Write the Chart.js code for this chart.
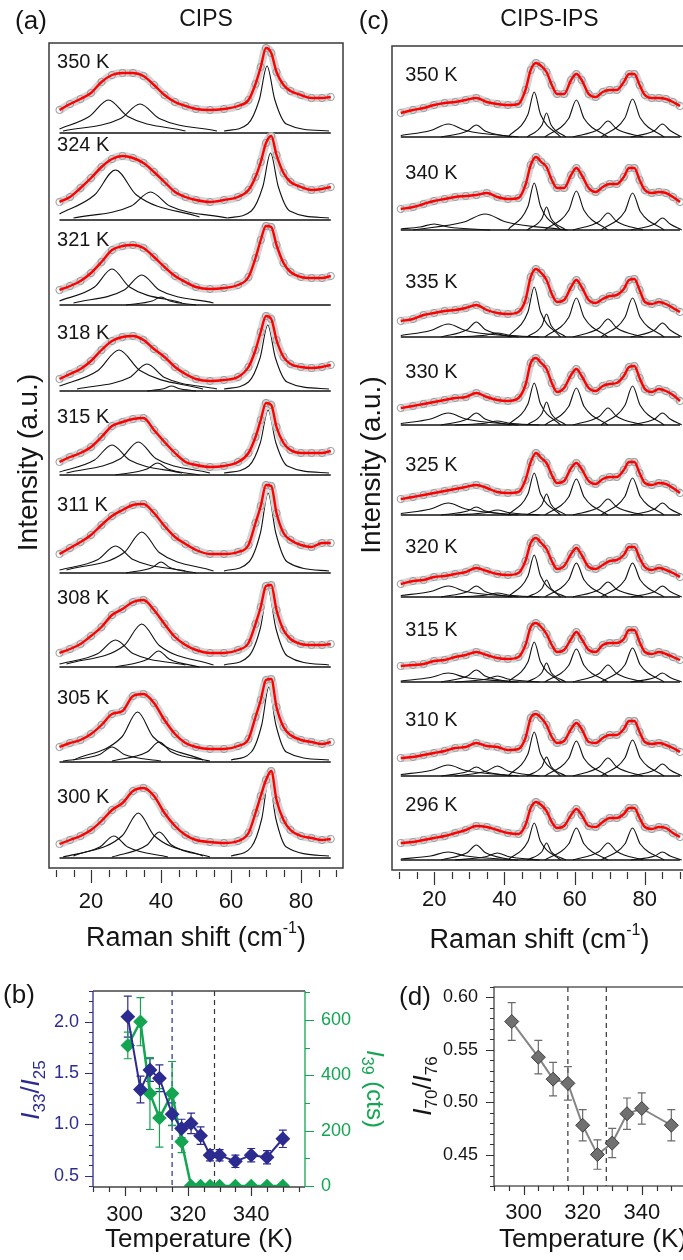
<!DOCTYPE html>
<html lang="en">
<head>
  <meta charset="UTF-8">
  <title>CIPS / CIPS-IPS Raman spectra</title>
  <script src="https://cdn.jsdelivr.net/npm/chart.js"></script>
  <style>
    body { margin: 0; width: 683px; height: 1260px; overflow: hidden; background: #fff; position: relative; }
    canvas { position: absolute; }
    #ca { left: 0; top: 0; }
    #cc { left: 345px; top: 0; }
    #cb { left: 0; top: 960px; }
    #cd { left: 360px; top: 960px; }
  </style>
</head>
<body>
  <canvas id="ca" width="360" height="960"></canvas>
  <canvas id="cc" width="355" height="960"></canvas>
  <canvas id="cb" width="400" height="300"></canvas>
  <canvas id="cd" width="340" height="300"></canvas>
<script>
// ---------- panel (a): CIPS spectra ----------
const shiftA = [11,14,17,20,23,26,29,32,35,38,41,44,47,50,54,58,62,65,67,68.5,70,71.5,73,75,77,80,83,86,88.5];
const tempsA = ['350 K','324 K','321 K','318 K','315 K','311 K','308 K','305 K','300 K'];
const baseA = [735, 648, 563, 477, 393, 295, 201, 106, 10];   // stacking offset of each trace
const lblHA = [71, 75, 65, 58, 58, 68, 69, 64, 61];
const lblXA = 10.3;

const specA350 = [23,29,34,40,51,58,60,60,57,48,38,31,27,24,23,24,27,33,49,66,85,80,61,48,42,38,35,35,36];
const specA324 = [18,23,32,42,53,61,64,62,57,48,38,28,23,20,18,20,23,30,43,58,77,84,65,47,38,33,30,31,33];
const specA321 = [15,19,24,32,43,55,59,60,57,48,38,29,23,18,16,17,20,28,47,65,79,78,60,42,33,28,27,27,29];
const specA318 = [12,17,22,30,41,50,54,55,51,42,34,24,17,12,10,11,14,24,41,59,75,72,51,34,27,24,23,24,26];
const specA315 = [13,18,22,28,38,49,53,56,57,45,33,22,13,10,8,9,13,22,38,55,72,70,48,32,25,22,22,22,24];
const specA311 = [19,25,31,38,48,57,63,68,69,60,47,36,29,23,19,19,21,28,50,67,88,87,60,40,33,28,26,30,30];
const specA308 = [14,18,23,31,40,52,58,65,67,57,43,30,22,17,14,14,17,24,43,60,81,82,57,37,28,23,22,22,23];
const specA305 = [15,19,22,28,37,48,51,66,68,59,42,28,19,15,13,13,16,23,45,62,82,83,55,35,27,22,20,18,20];
const specA300 = [14,18,22,28,37,48,55,67,70,62,45,32,23,18,16,15,17,25,45,62,78,87,58,38,28,22,20,18,19];

// fitted components, read as [shift, height] points
const compA350 = [
  [[11,4],[19.5,16.5],[25,33],[30.5,16.5],[47,2]],
  [[12,2],[28.5,14.5],[34,29],[39.5,14.5],[56,2]],
  [[58,2],[64.8,9],[68.1,33.5],[70.3,67],[72.5,33.5],[75.8,9],[88,2]]];
const compA324 = [
  [[11,6],[21,25],[27,50],[33,25],[51,3]],
  [[15,2],[31.5,14],[37,28],[42.5,14],[59,2]],
  [[59,2],[65.8,9],[69.1,33.5],[71.3,67],[73.5,33.5],[76.8,9],[88,2]]];
const compA321 = [
  [[11,4],[21,18],[26,36],[31,18],[46,2]],
  [[15,2],[29.5,15],[34.5,30],[39.5,15],[55,2]],
  [[30,0],[37.5,4],[40,8],[42.5,4],[50,0]]];
const compA318 = [
  [[11,5],[22,20.5],[28,41],[34,20.5],[52,2]],
  [[16,2],[31,13.5],[36,27],[41,13.5],[56,2]],
  [[36,0],[41,2.5],[43,5],[45,2.5],[50,0]],
  [[58,2],[65,9],[68.3,33],[70.5,66],[72.7,33],[76,9],[88,2]]];
const compA315 = [
  [[11,3],[21,15],[26,30],[31,15],[46,2]],
  [[13,2],[28.5,16.5],[33.5,33],[38.5,16.5],[54,2]],
  [[27,0],[36,6],[39,12],[42,6],[51,0]],
  [[58,2],[65.1,9],[68.4,32.5],[70.6,65],[72.8,32.5],[76.1,9],[88,2]]];
const compA311 = [
  [[11,3],[22,13.5],[27,27],[32,13.5],[47,2]],
  [[13,3],[29.5,20.5],[34.5,41],[39.5,20.5],[55,2]],
  [[30,0],[37.5,5.5],[40,11],[42.5,5.5],[50,0]],
  [[58,2],[65.1,11],[68.4,40],[70.6,80],[72.8,40],[76.1,11],[88,2]]];
const compA308 = [
  [[11,3],[22,13.5],[27,27],[32,13.5],[47,2]],
  [[13,3],[29.5,21.5],[34.5,43],[39.5,21.5],[55,2]],
  [[27,0],[36.3,8],[39.3,16],[42.3,8],[51,0]],
  [[58,2],[65.1,11],[68.4,39],[70.6,78],[72.8,39],[76.1,11],[88,2]]];
const compA305 = [
  [[12,1],[22.5,7.5],[26,15],[29.5,7.5],[40,1]],
  [[15,2],[28.8,25],[33.3,50],[37.8,25],[52,2]],
  [[26,1],[36,10],[39.5,20],[43,10],[54,1]],
  [[60,2],[65.8,10],[68.8,37.5],[70.8,75],[72.8,37.5],[75.8,10],[88,2]]];
const compA300 = [
  [[12,1],[22.5,11],[26.5,22],[30.5,11],[42,1]],
  [[15,2],[29,22.5],[33.5,45],[38,22.5],[52,2]],
  [[26,1],[36,13],[39.5,26],[43,13],[54,1]],
  [[60,2],[65.8,11],[68.8,39.5],[70.8,79],[72.8,39.5],[75.8,11],[88,2]]];

// ---------- panel (c): CIPS-IPS spectra ----------
const shiftC = [10.5,14,17,20,23,26,29,32,35,38,41,44,46,47.5,49,50.5,52,53.5,55,57,59,60.5,62,64,66,68,70,72,74,75.5,77,78.5,80,82,84,86,88,90];
const tempsC = ['350 K','340 K','335 K','330 K','325 K','320 K','315 K','310 K','296 K'];
const baseC = [733, 640, 533, 445, 355, 273, 188, 94, 10];
const lblHC = [62, 57, 55, 53, 50, 50, 52, 56, 55];
const lblXC = 11.8;

const specC350 = [24,27,29,32,34,35,37,39,35,33,32,33,47,67,74,71,65,52,43,43,57,63,57,43,40,45,47,47,55,63,63,52,42,39,39,38,35,31];
const specC340 = [21,23,26,29,31,33,34,35,37,33,31,32,45,65,73,68,63,50,42,42,55,62,55,42,38,43,46,46,53,62,62,50,40,37,38,37,33,28];
const specC335 = [16,18,22,24,26,27,29,32,27,24,23,25,37,60,68,64,57,43,35,37,50,57,50,37,34,38,41,42,48,57,58,47,35,33,35,33,29,25];
const specC330 = [17,19,21,23,25,27,28,32,28,25,24,27,40,62,67,62,56,42,33,37,50,56,49,37,34,39,41,42,49,58,59,47,36,33,36,34,30,24];
const specC325 = [16,18,20,22,24,26,28,30,27,23,22,23,35,53,62,57,52,40,32,34,47,52,46,34,31,36,38,38,45,53,53,42,32,30,32,31,27,22];
const specC320 = [13,16,17,20,21,23,25,29,26,23,22,24,36,54,59,54,48,36,28,31,43,49,42,30,28,32,36,37,42,50,50,39,30,27,29,27,24,20];
const specC315 = [16,17,18,21,22,25,27,30,27,24,23,25,37,55,59,55,48,37,30,32,43,50,43,32,30,37,39,39,43,52,52,40,30,28,30,28,25,22];
const specC310 = [18,19,21,23,25,28,29,33,30,29,26,27,38,58,62,58,51,39,33,35,47,53,47,34,33,38,41,41,47,55,55,44,34,32,33,31,28,24];
const specC296 = [17,18,20,22,24,27,30,34,33,30,27,26,35,52,58,55,49,38,32,34,45,51,45,34,33,38,42,42,46,52,52,42,33,31,33,32,27,23];

// component peaks of (c): shift positions of each curve, heights per temperature
const pkX20 = [10.5,16,20,24,36];
const pkX24 = [10.5,19,24,29,44];
const pkX32 = [22,29.5,32,34.5,42];
const pkX34 = [14,28.5,34.5,40.5,58];
const pkX38 = [26,35,38,41,50];
const pkX48 = [41,46.7,48.5,50.3,56];
const pkX52 = [46.5,50.7,52,53.3,57.5];
const pkX60 = [51.5,58.3,60.5,62.7,69.5];
const pkX69 = [59.5,67,69.5,72,79.5];
const pkX76 = [67.5,74.3,76.5,78.7,85.5];
const pkX85 = [76,82.8,85,87.2,90.5];

const compC350 = [[pkX24,[1.5,6.5,13,6.5,0]],[pkX32,[0,6,12,6,0]],[pkX48,[0,22.5,45,22.5,0]],[pkX52,[0,12,24,12,0]],
  [pkX60,[0,18.5,37,18.5,0]],[pkX69,[0,8,16,8,0]],[pkX76,[0,19,38,19,0]],[pkX85,[0,6.5,13,6.5,0]]];
const compC340 = [[pkX20,[1,3,6,3,0]],[pkX34,[0,8,16,8,0]],[pkX48,[0,23.5,47,23.5,0]],[pkX52,[0,11.5,23,11.5,0]],
  [pkX60,[0,19.5,39,19.5,0]],[pkX69,[0,8.5,17,8.5,0]],[pkX76,[0,18.5,37,18.5,0]],[pkX85,[0,6,12,6,0]]];
const compC335 = [[pkX24,[1.5,6.5,13,6.5,0]],[pkX32,[0,7.5,15,7.5,0]],[pkX38,[0,2,4,2,0]],[pkX48,[0,25,50,25,0]],[pkX52,[0,11.5,23,11.5,0]],
  [pkX60,[0,19.5,39,19.5,0]],[pkX69,[0,9,18,9,0]],[pkX76,[0,19.5,39,19.5,0]],[pkX85,[0,7,14,7,0]]];
const compC330 = [[pkX24,[1.5,6,12,6,0]],[pkX32,[0,6,12,6,0]],[pkX38,[0,2,4,2,0]],[pkX48,[0,21,42,21,0]],[pkX52,[0,11.5,23,11.5,0]],
  [pkX60,[0,18.5,37,18.5,0]],[pkX69,[0,8.5,17,8.5,0]],[pkX76,[0,19.5,39,19.5,0]],[pkX85,[0,6,12,6,0]]];
const compC325 = [[pkX24,[1.5,6,12,6,0]],[pkX32,[0,4,8,4,0]],[pkX38,[0,2.5,5,2.5,0]],[pkX48,[0,21,42,21,0]],[pkX52,[0,10.5,21,10.5,0]],
  [pkX60,[0,18,36,18,0]],[pkX69,[0,8,16,8,0]],[pkX76,[0,18.5,37,18.5,0]],[pkX85,[0,6,12,6,0]]];
const compC320 = [[pkX24,[1.5,5.5,11,5.5,0]],[pkX32,[0,5.5,11,5.5,0]],[pkX38,[0,2,4,2,0]],[pkX48,[0,21,42,21,0]],[pkX52,[0,8.5,17,8.5,0]],
  [pkX60,[0,17,34,17,0]],[pkX69,[0,7.5,15,7.5,0]],[pkX76,[0,17,34,17,0]],[pkX85,[0,5.5,11,5.5,0]]];
const compC315 = [[pkX24,[1,4.5,9,4.5,0]],[pkX32,[0,6,12,6,0]],[pkX38,[0,3,6,3,0]],[pkX48,[0,20,40,20,0]],[pkX52,[0,9.5,19,9.5,0]],
  [pkX60,[0,16.5,33,16.5,0]],[pkX69,[0,8.5,17,8.5,0]],[pkX76,[0,17,34,17,0]],[pkX85,[0,4.5,9,4.5,0]]];
const compC310 = [[pkX24,[1.5,5.5,11,5.5,0]],[pkX32,[0,4.5,9,4.5,0]],[pkX38,[0,5,10,5,0]],[pkX48,[0,22,44,22,0]],[pkX52,[0,9.5,19,9.5,0]],
  [pkX60,[0,17.5,35,17.5,0]],[pkX69,[0,9,18,9,0]],[pkX76,[0,18,36,18,0]],[pkX85,[0,6,12,6,0]]];
const compC296 = [[pkX24,[1,4,8,4,0]],[pkX32,[0,7.5,15,7.5,0]],[pkX38,[0,3.5,7,3.5,0]],[pkX48,[0,18.5,37,18.5,0]],[pkX52,[0,8.5,17,8.5,0]],
  [pkX60,[0,16,32,16,0]],[pkX69,[0,8.5,17,8.5,0]],[pkX76,[0,16,32,16,0]],[pkX85,[0,4,8,4,0]]];

// ---------- panel (b): I33/I25 and I39 vs temperature ----------
const tempsB = [301,305,308,311,315,318,321,324,327,330,335,340,345,350];
const ratio33 = [2.05,1.34,1.53,1.45,1.10,0.96,1.01,0.89,0.70,0.70,0.64,0.70,0.68,0.86];
const ratio33Err = [0.20,0.13,0.11,0.13,0.11,0.09,0.10,0.085,0.055,0.055,0.06,0.065,0.065,0.085];
const i39 = [508,594,334,246,334,160,0,0,0,0,0,0,0,0];
const i39Err = [48,87,130,106,116,40,0,0,0,0,0,0,0,0];
const dashB = [315, 328.4];

// ---------- panel (d): I70/I76 vs temperature ----------
const tempsD = [296,305,310,315,320,325,330,335,340,350];
const ratio70 = [0.577,0.543,0.522,0.518,0.478,0.450,0.461,0.489,0.494,0.478];
const ratio70Err = [0.018,0.016,0.016,0.016,0.015,0.014,0.014,0.015,0.015,0.015];
const dashD = [315, 328];

// ---------- helpers ----------
const FONT = '"Liberation Sans", Arial, Helvetica, sans-serif';
const NAVY = '#2c2b90';
const GREEN = '#13a552';
const INK = '#151515';
Chart.defaults.font.family = FONT;

function range(a, b, step) {
  const out = [];
  const n = Math.round((b - a) / step);
  for (let k = 0; k <= n; k++) out.push(+(a + k * step).toFixed(4));
  return out;
}

function rich(ctx, runs, x, y, rot) {
  ctx.save();
  ctx.translate(x, y);
  if (rot) ctx.rotate(rot);
  let w = 0;
  runs.forEach(r => { ctx.font = r.f; w += ctx.measureText(r.t).width; });
  let cx = -w / 2;
  ctx.textAlign = 'left';
  ctx.textBaseline = 'alphabetic';
  runs.forEach(r => {
    ctx.font = r.f;
    ctx.fillStyle = r.c || INK;
    ctx.fillText(r.t, cx, r.dy || 0);
    cx += ctx.measureText(r.t).width;
  });
  ctx.restore();
}

function ticksX(ctx, sc, y0, vals, majors, lMin, lMaj, col) {
  ctx.save();
  ctx.strokeStyle = col; ctx.lineWidth = 1.2;
  ctx.beginPath();
  vals.forEach(v => {
    const x = Math.round(sc.getPixelForValue(v)) + 0.5;
    ctx.moveTo(x, y0);
    ctx.lineTo(x, y0 + (majors.includes(v) ? lMaj : lMin));
  });
  ctx.stroke();
  ctx.restore();
}

function ticksY(ctx, sc, x0, dir, vals, majors, lMin, lMaj, col) {
  ctx.save();
  ctx.strokeStyle = col; ctx.lineWidth = 1.2;
  ctx.beginPath();
  vals.forEach(v => {
    const y = Math.round(sc.getPixelForValue(v)) + 0.5;
    ctx.moveTo(x0, y);
    ctx.lineTo(x0 + dir * (majors.includes(v) ? lMaj : lMin), y);
  });
  ctx.stroke();
  ctx.restore();
}

function errBars(ctx, xs, ys, es, sx, sy, col, cap) {
  ctx.save();
  ctx.strokeStyle = col; ctx.lineWidth = 1.2;
  ctx.beginPath();
  xs.forEach((t, i) => {
    if (!es[i]) return;
    const x = sx.getPixelForValue(t);
    const y1 = sy.getPixelForValue(ys[i] + es[i]);
    const y2 = sy.getPixelForValue(ys[i] - es[i]);
    ctx.moveTo(x, y1); ctx.lineTo(x, y2);
    ctx.moveTo(x - cap, y1); ctx.lineTo(x + cap, y1);
    ctx.moveTo(x - cap, y2); ctx.lineTo(x + cap, y2);
  });
  ctx.stroke();
  ctx.restore();
}

function spectraSets(xs, specs, bases, comps) {
  const reds = [], dots = [], bands = [], lines = [];
  specs.forEach((s, i) => {
    const pts = xs.map((x, j) => ({ x: x, y: s[j] + bases[i] }));
    reds.push({ data: pts, borderColor: '#ff0000', borderWidth: 2.4, pointRadius: 0, cubicInterpolationMode: 'monotone' });
    dots.push({ data: pts, showLine: false, pointRadius: 3.6, pointBorderWidth: 1, pointBorderColor: '#999999', pointBackgroundColor: 'rgba(255,255,255,0)' });
    bands.push({ data: pts, borderColor: '#d4d4d4', borderWidth: 8, pointRadius: 0, cubicInterpolationMode: 'monotone' });
    comps[i].forEach(c => {
      lines.push({ data: c.map(p => ({ x: p[0], y: p[1] + bases[i] })), borderColor: '#111', borderWidth: 1.1,
        pointRadius: 0, cubicInterpolationMode: 'monotone' });
    });
    lines.push({ data: [{ x: xs[0], y: bases[i] }, { x: xs[xs.length - 1], y: bases[i] }], borderColor: '#111', borderWidth: 1.4, pointRadius: 0 });
  });
  return [...reds, ...dots, ...bands, ...lines];
}

const common = {
  responsive: false,
  animation: false,
  devicePixelRatio: 1,
  events: [],
  plugins: { legend: { display: false }, tooltip: { enabled: false } }
};

function hiddenGrid() { return { display: false, drawTicks: false }; }

// the scale boxes keep a fixed size so the plot area lands where the figure has it
function spectraOptions(pad, ymax, labelPad) {
  return Object.assign({}, common, {
    layout: { padding: pad },
    scales: {
      x: {
        type: 'linear', min: 8, max: 92,
        grid: hiddenGrid(), border: { display: false },
        afterFit: s => { s.height = 60; },
        afterBuildTicks: s => { s.ticks = [20, 40, 60, 80].map(v => ({ value: v })); },
        ticks: { font: { size: 22 }, color: INK, padding: labelPad, maxRotation: 0, autoSkip: false }
      },
      y: { display: false, min: 0, max: ymax }
    }
  });
}

function spectraDeco(id, tag, title, temps, bases, lblH, lblX) {
  return {
    id: id,
    afterDraw(chart) {
      const { ctx, chartArea: a, scales: { x, y } } = chart;
      ctx.save();
      ctx.strokeStyle = '#3a3a3a'; ctx.lineWidth = 1.5;
      ctx.strokeRect(a.left, a.top, a.right - a.left, a.bottom - a.top);
      ctx.restore();
      ticksX(ctx, x, a.bottom + 2, range(10, 90, 5), [20, 40, 60, 80], 7, 13, '#333');
      ctx.save();
      ctx.font = '20px ' + FONT; ctx.fillStyle = INK; ctx.textBaseline = 'middle'; ctx.textAlign = 'left';
      temps.forEach((t, i) => ctx.fillText(t, x.getPixelForValue(lblX), y.getPixelForValue(bases[i] + lblH[i])));
      ctx.restore();
      rich(ctx, [{ t: tag, f: '26px ' + FONT }], a.left - 18, 29, 0);
      rich(ctx, [{ t: title, f: '23px ' + FONT }], (a.left + a.right) / 2 + 10, 26, 0);
      rich(ctx, [{ t: 'Intensity (a.u.)', f: '28px ' + FONT, dy: 9 }], a.left - 21, (a.top + a.bottom) / 2 + 7, -Math.PI / 2);
      rich(ctx, [
        { t: 'Raman shift (cm', f: '27px ' + FONT, dy: 10 },
        { t: '-1', f: '16px ' + FONT, dy: -3 },
        { t: ')', f: '27px ' + FONT, dy: 10 }
      ], (a.left + a.right) / 2, a.bottom + 68, 0);
    }
  };
}

// ---------- (a) ----------
new Chart(document.getElementById('ca'), {
  type: 'line',
  data: { datasets: spectraSets(shiftA,
    [specA350, specA324, specA321, specA318, specA315, specA311, specA308, specA305, specA300], baseA,
    [compA350, compA324, compA321, compA318, compA315, compA311, compA308, compA305, compA300]) },
  options: spectraOptions({ left: 49, top: 43, right: 17, bottom: 32 }, 825, 21),
  plugins: [spectraDeco('decoA', '(a)', 'CIPS', tempsA, baseA, lblHA, lblXA)]
});

// ---------- (c) ----------
const compsC = [compC350, compC340, compC335, compC330, compC325, compC320, compC315, compC310, compC296]
  .map(list => list.map(([xs, ys]) => xs.map((x, k) => [x, ys[k]])));
new Chart(document.getElementById('cc'), {
  type: 'line',
  data: { datasets: spectraSets(shiftC,
    [specC350, specC340, specC335, specC330, specC325, specC320, specC315, specC310, specC296], baseC, compsC) },
  options: spectraOptions({ left: 47, top: 46, right: 13, bottom: 30 }, 824, 17),
  plugins: [spectraDeco('decoC', '(c)', 'CIPS-IPS', tempsC, baseC, lblHC, lblXC)]
});

// ---------- (b) ----------
new Chart(document.getElementById('cb'), {
  type: 'line',
  data: {
    datasets: [
      { data: tempsB.map((t, i) => ({ x: t, y: ratio33[i] })), yAxisID: 'y', borderColor: NAVY, borderWidth: 2,
        pointStyle: 'rectRot', pointRadius: 6, pointBackgroundColor: NAVY, pointBorderColor: NAVY },
      { data: tempsB.map((t, i) => ({ x: t, y: i39[i] })), yAxisID: 'y2', borderColor: GREEN, borderWidth: 2.5,
        pointStyle: 'rectRot', pointRadius: 5.5, pointBackgroundColor: GREEN, pointBorderColor: GREEN }
    ]
  },
  options: Object.assign({}, common, {
    layout: { padding: { left: 33, right: 25, top: 31, bottom: 23 } },
    scales: {
      x: {
        type: 'linear', min: 290, max: 357, grid: hiddenGrid(), border: { display: false },
        afterFit: s => { s.height = 50; },
        afterBuildTicks: s => { s.ticks = [300, 320, 340].map(v => ({ value: v })); },
        ticks: { font: { size: 22 }, color: INK, padding: 15, maxRotation: 0 }
      },
      y: {
        position: 'left', min: 0.39, max: 2.3, grid: hiddenGrid(), border: { display: false },
        afterFit: s => { s.width = 60; },
        afterBuildTicks: s => { s.ticks = [0.5, 1.0, 1.5, 2.0].map(v => ({ value: v })); },
        ticks: { font: { size: 18 }, color: NAVY, padding: 14, callback: v => v.toFixed(1) }
      },
      y2: {
        position: 'right', min: -4, max: 705, grid: hiddenGrid(), border: { display: false },
        afterFit: s => { s.width = 70; },
        afterBuildTicks: s => { s.ticks = [0, 200, 400, 600].map(v => ({ value: v })); },
        ticks: { font: { size: 18 }, color: GREEN, padding: 16 }
      }
    }
  }),
  plugins: [{
    id: 'decoB',
    beforeDatasetsDraw(chart) {
      const { ctx, chartArea: a, scales: { x, y, y2 } } = chart;
      ctx.save();
      ctx.setLineDash([5, 4]); ctx.lineWidth = 1.2;
      [NAVY, '#333'].forEach((col, i) => {
        const px = x.getPixelForValue(dashB[i]);
        ctx.strokeStyle = col;
        ctx.beginPath(); ctx.moveTo(px, a.top); ctx.lineTo(px, a.bottom); ctx.stroke();
      });
      ctx.restore();
      errBars(ctx, tempsB, ratio33, ratio33Err, x, y, NAVY, 4);
      errBars(ctx, tempsB, i39, i39Err, x, y2, GREEN, 4);
    },
    afterDraw(chart) {
      const { ctx, chartArea: a, scales: { x, y, y2 } } = chart;
      ctx.save();
      ctx.lineWidth = 1.3;
      ctx.strokeStyle = '#444';
      ctx.beginPath(); ctx.moveTo(a.left, a.top); ctx.lineTo(a.right, a.top);
      ctx.moveTo(a.left, a.bottom); ctx.lineTo(a.right, a.bottom); ctx.stroke();
      ctx.strokeStyle = NAVY;
      ctx.beginPath(); ctx.moveTo(a.left, a.top); ctx.lineTo(a.left, a.bottom); ctx.stroke();
      ctx.strokeStyle = GREEN;
      ctx.beginPath(); ctx.moveTo(a.right, a.top); ctx.lineTo(a.right, a.bottom); ctx.stroke();
      ctx.restore();
      ticksX(ctx, x, a.bottom, range(290, 355, 5), [300, 320, 340], 5, 9, '#333');
      ticksY(ctx, y, a.left, -1, range(0.4, 2.3, 0.1), [0.5, 1, 1.5, 2], 4, 8, NAVY);
      ticksY(ctx, y2, a.right, 1, range(0, 700, 100), [0, 200, 400, 600], 5, 9, GREEN);
      rich(ctx, [{ t: '(b)', f: '26px ' + FONT }], 19, 43, 0);
      rich(ctx, [{ t: 'Temperature (K)', f: '26px ' + FONT, dy: 9 }], (a.left + a.right) / 2, 278, 0);
      rich(ctx, [
        { t: 'I', f: 'italic 26px ' + FONT, c: NAVY, dy: 9 },
        { t: '33', f: '17px ' + FONT, c: NAVY, dy: 15 },
        { t: '/', f: '26px ' + FONT, c: NAVY, dy: 9 },
        { t: 'I', f: 'italic 26px ' + FONT, c: NAVY, dy: 9 },
        { t: '25', f: '17px ' + FONT, c: NAVY, dy: 15 }
      ], 30, 130, -Math.PI / 2);
      rich(ctx, [
        { t: 'I', f: 'italic 24px ' + FONT, c: GREEN, dy: 9 },
        { t: '39', f: '16px ' + FONT, c: GREEN, dy: 14 },
        { t: ' (cts)', f: '24px ' + FONT, c: GREEN, dy: 9 }
      ], 376, 129, Math.PI / 2);
    }
  }]
});

// ---------- (d) ----------
new Chart(document.getElementById('cd'), {
  type: 'line',
  data: {
    datasets: [
      { data: tempsD.map((t, i) => ({ x: t, y: ratio70[i] })), borderColor: '#858585', borderWidth: 2,
        pointStyle: 'rectRot', pointRadius: 7, pointBackgroundColor: '#707070', pointBorderColor: '#3c3c3c', pointBorderWidth: 1 }
    ]
  },
  options: Object.assign({}, common, {
    layout: { padding: { left: 64, right: 5, top: 27, bottom: 24 } },
    scales: {
      x: {
        type: 'linear', min: 290, max: 357, grid: hiddenGrid(), border: { display: false },
        afterFit: s => { s.height = 50; },
        afterBuildTicks: s => { s.ticks = [300, 320, 340].map(v => ({ value: v })); },
        ticks: { font: { size: 22 }, color: INK, padding: 14, maxRotation: 0 }
      },
      y: {
        position: 'left', min: 0.42, max: 0.61, grid: hiddenGrid(), border: { display: false },
        afterFit: s => { s.width = 70; },
        afterBuildTicks: s => { s.ticks = [0.45, 0.50, 0.55, 0.60].map(v => ({ value: v })); },
        ticks: { font: { size: 18 }, color: INK, padding: 16, callback: v => v.toFixed(2) }
      }
    }
  }),
  plugins: [{
    id: 'decoD',
    beforeDatasetsDraw(chart) {
      const { ctx, chartArea: a, scales: { x, y } } = chart;
      ctx.save();
      ctx.setLineDash([5, 4]); ctx.lineWidth = 1.2; ctx.strokeStyle = '#333';
      dashD.forEach(t => {
        const px = x.getPixelForValue(t);
        ctx.beginPath(); ctx.moveTo(px, a.top); ctx.lineTo(px, a.bottom); ctx.stroke();
      });
      ctx.restore();
      errBars(ctx, tempsD, ratio70, ratio70Err, x, y, '#6a6a6a', 4);
    },
    afterDraw(chart) {
      const { ctx, chartArea: a, scales: { x, y } } = chart;
      ctx.save();
      ctx.strokeStyle = '#444'; ctx.lineWidth = 1.3;
      ctx.strokeRect(a.left, a.top, a.right - a.left, a.bottom - a.top);
      ctx.restore();
      ticksX(ctx, x, a.bottom, range(290, 355, 5), [300, 320, 340], 5, 9, '#333');
      ticksY(ctx, y, a.left, -1, range(0.42, 0.61, 0.01), [0.45, 0.5, 0.55, 0.6], 4, 8, '#333');
      rich(ctx, [{ t: '(d)', f: '26px ' + FONT }], 55, 45, 0);
      rich(ctx, [{ t: 'Temperature (K)', f: '26px ' + FONT, dy: 9 }], (a.left + a.right) / 2, 278, 0);
      rich(ctx, [
        { t: 'I', f: 'italic 26px ' + FONT, dy: 9 },
        { t: '70', f: '17px ' + FONT, dy: 15 },
        { t: '/', f: '26px ' + FONT, dy: 9 },
        { t: 'I', f: 'italic 26px ' + FONT, dy: 9 },
        { t: '76', f: '17px ' + FONT, dy: 15 }
      ], 62, 126, -Math.PI / 2);
    }
  }]
});
</script>
</body>
</html>
